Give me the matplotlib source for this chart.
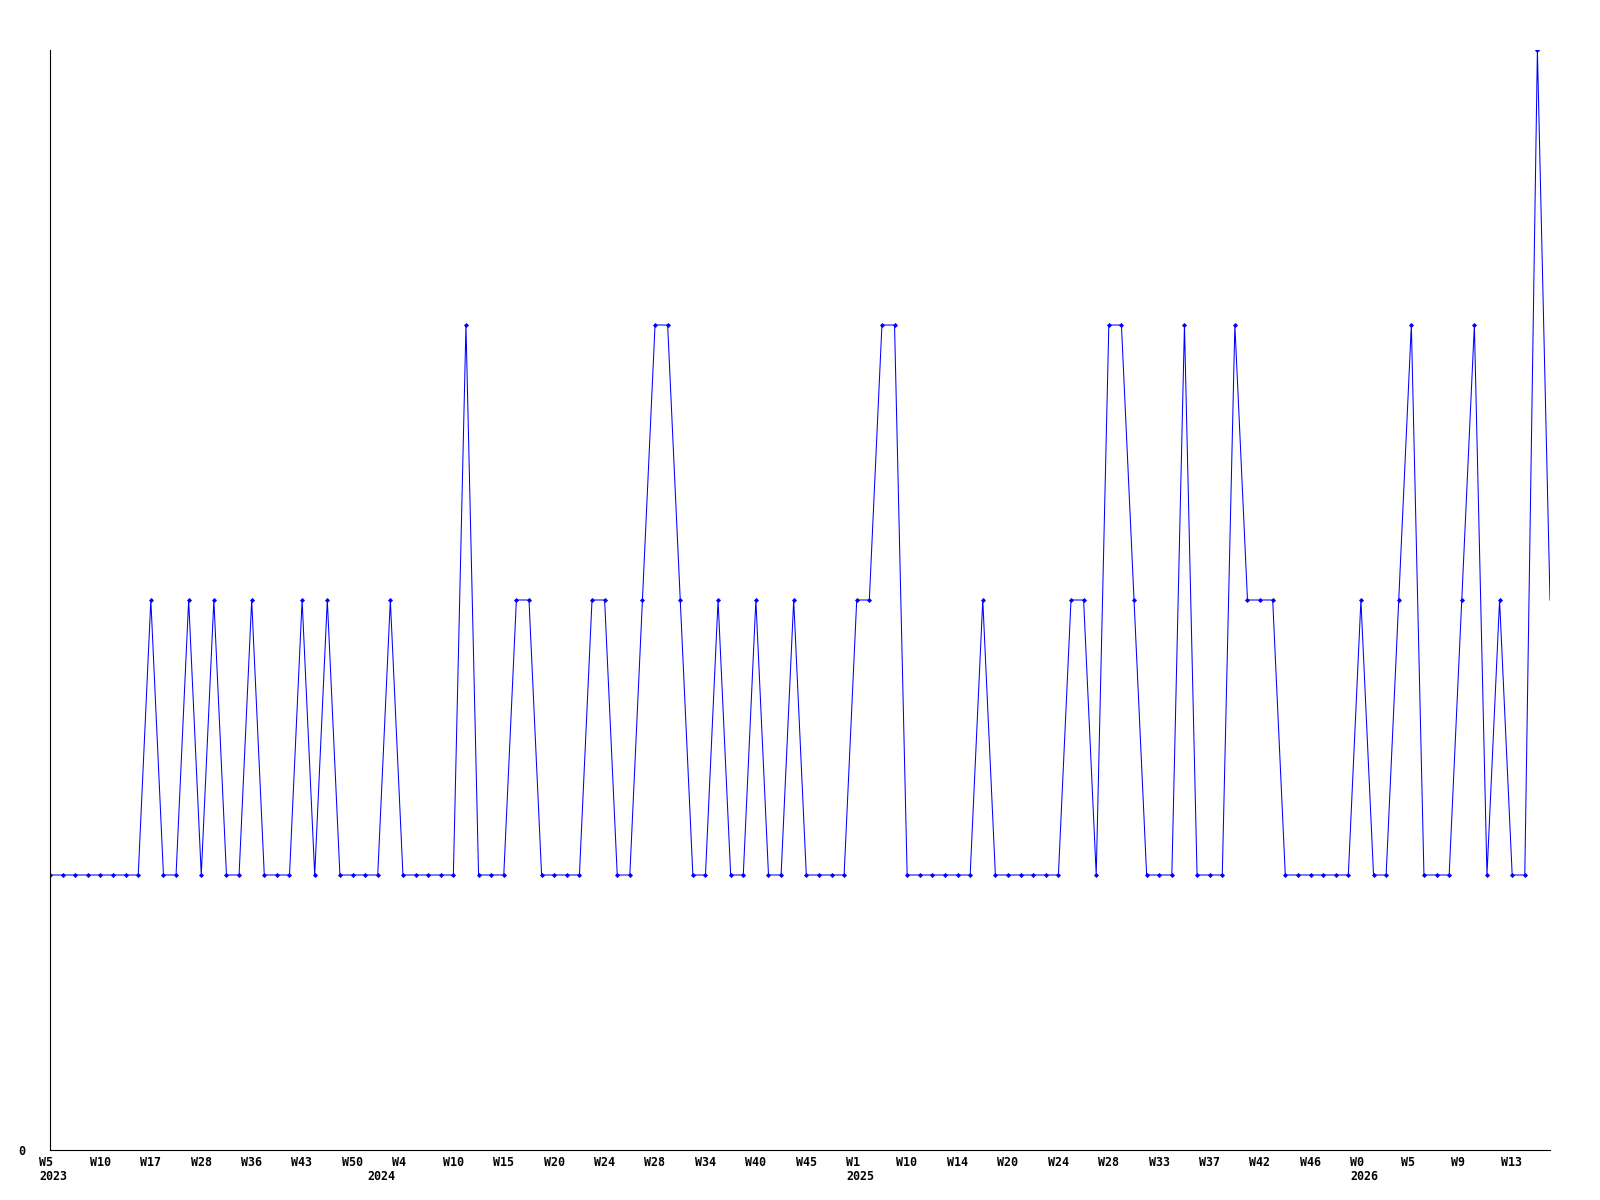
import matplotlib
matplotlib.use("Agg")
import matplotlib.pyplot as plt
import matplotlib.transforms as mtransforms

# ---- data ----
values = [1, 1, 1, 1, 1, 1, 1, 1, 2, 1,
          1, 2, 1, 2, 1, 1, 2, 1, 1, 1,
          2, 1, 2, 1, 1, 1, 1, 2, 1, 1,
          1, 1, 1, 3, 1, 1, 1, 2, 2, 1,
          1, 1, 1, 2, 2, 1, 1, 2, 3, 3,
          2, 1, 1, 2, 1, 1, 2, 1, 1, 2,
          1, 1, 1, 1, 2, 2, 3, 3, 1, 1,
          1, 1, 1, 1, 2, 1, 1, 1, 1, 1,
          1, 2, 2, 1, 3, 3, 2, 1, 1, 1,
          3, 1, 1, 1, 3, 2, 2, 2, 1, 1,
          1, 1, 1, 1, 2, 1, 1, 2, 3, 1,
          1, 1, 2, 3, 1, 2, 1, 1, 4, 2]
week_labels = ['W5', 'W10', 'W17', 'W28', 'W36', 'W43', 'W50', 'W4', 'W10', 'W15',
               'W20', 'W24', 'W28', 'W34', 'W40', 'W45', 'W1', 'W10', 'W14', 'W20',
               'W24', 'W28', 'W33', 'W37', 'W42', 'W46', 'W0', 'W5', 'W9', 'W13']
label_step = 4
year_labels = ['2023', '2024', '2025', '2026']
year_index = [0, 26, 64, 104]
y_ticks = [0]
y_max = 4

# ---- figure ----
fig = plt.figure(figsize=(16, 12), dpi=100)
ax = fig.add_axes([50/1600, 50/1200, 1500/1600, 1100/1200])

n = len(values)
x = list(range(n))
blue = (0, 0, 1)
ax.plot(x, values, color=blue, lw=0.75, solid_joinstyle='miter')
ax.plot(x[:-1], values[:-1], ls='none', marker='D', ms=2.6, color=blue, mew=0)

ax.set_xlim(0, n - 1)
ax.set_ylim(0, y_max)

for s in ['top', 'right']:
    ax.spines[s].set_visible(False)
for s in ['left', 'bottom']:
    ax.spines[s].set_linewidth(0.8)
    ax.spines[s].set_color('black')

font = dict(family='DejaVu Sans Mono', fontweight='bold', fontsize=8.4)

ax.set_xticks([])
ax.set_yticks(y_ticks)
ax.set_yticklabels([str(v) for v in y_ticks], **font)
ax.tick_params(axis='y', length=0, pad=17.5)

base = mtransforms.blended_transform_factory(ax.transData, ax.transAxes)
off_w = mtransforms.ScaledTranslation(-10.7/100, -12/100, fig.dpi_scale_trans)
off_y = mtransforms.ScaledTranslation(-10.7/100, -27/100, fig.dpi_scale_trans)
for k, lab in enumerate(week_labels):
    ax.text(k * label_step, 0, lab, transform=base + off_w, ha='left', va='center',
            clip_on=False, **font)
for i, lab in zip(year_index, year_labels):
    ax.text(i, 0, lab, transform=base + off_y, ha='left', va='center',
            clip_on=False, **font)

fig.savefig('out.png', dpi=100, facecolor='white')
